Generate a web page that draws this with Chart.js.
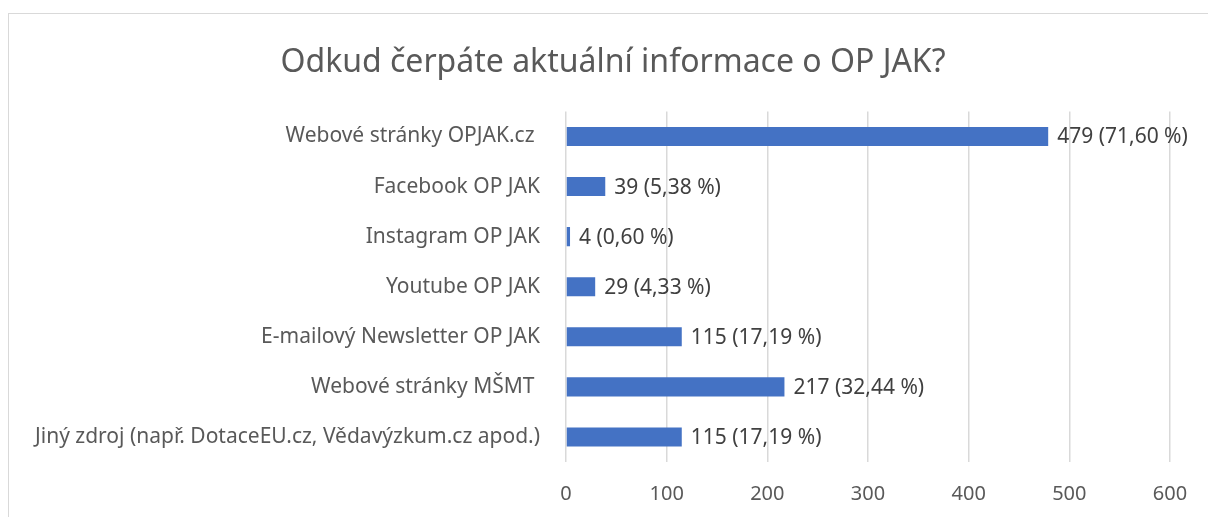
<!DOCTYPE html>
<html>
<head>
<meta charset="utf-8">
<script src="https://cdn.jsdelivr.net/npm/chart.js@4"></script>
<style>
  html, body { margin: 0; padding: 0; background: #fff; overflow: hidden; }
  #frame { position: absolute; left: 8px; top: 13px; width: 1400px; height: 700px; border: 1px solid #d9d9d9; }
  #wrap { position: absolute; left: 0; top: 0; width: 1208px; height: 517px; }
</style>
</head>
<body>
<div id="frame"></div>
<div id="wrap"><canvas id="chart"></canvas></div>
<script>
const categories = [
  "Webové stránky OPJAK.cz ",
  "Facebook OP JAK",
  "Instagram OP JAK",
  "Youtube OP JAK",
  "E-mailový Newsletter OP JAK",
  "Webové stránky MŠMT ",
  "Jiný zdroj (např. DotaceEU.cz, Vědavýzkum.cz apod.)"
];
const counts = [479, 39, 4, 29, 115, 217, 115];
const shares = ["71,60", "5,38", "0,60", "4,33", "17,19", "32,44", "17,19"];
const xTicks = [0, 100, 200, 300, 400, 500, 600];

const FONT = "'Noto Sans', sans-serif";

const valueLabels = {
  id: "valueLabels",
  afterDatasetsDraw(chart) {
    const ctx = chart.ctx;
    const meta = chart.getDatasetMeta(0);
    ctx.save();
    ctx.font = "21px " + FONT;
    ctx.fillStyle = "#404040";
    ctx.textAlign = "left";
    ctx.textBaseline = "middle";
    meta.data.forEach((bar, i) => {
      ctx.fillText(`${counts[i]} (${shares[i]} %)`, bar.x + 9, bar.y + 1);
    });
    ctx.restore();
  }
};

new Chart(document.getElementById("chart"), {
  type: "bar",
  data: {
    labels: categories,
    datasets: [{
      data: counts,
      backgroundColor: "#4472C4",
      barPercentage: 0.76,
      categoryPercentage: 0.5
    }]
  },
  options: {
    indexAxis: "y",
    responsive: true,
    maintainAspectRatio: false,
    animation: false,
    layout: { padding: { right: 38, left: 56 } },
    plugins: {
      legend: { display: false },
      tooltip: { enabled: false },
      title: {
        display: true,
        text: "Odkud čerpáte aktuální informace o OP JAK?",
        color: "#595959",
        font: { family: FONT, size: 32, weight: "normal" },
        padding: { top: 44, bottom: 29 }
      }
    },
    scales: {
      x: {
        min: 0,
        max: 600,
        afterBuildTicks: (scale) => { scale.ticks = xTicks.map(v => ({ value: v })); },
        afterFit: (scale) => { scale.height = 55; },
        grid: { color: "#d9d9d9", lineWidth: 1.5, drawTicks: false },
        border: { display: false },
        ticks: { color: "#595959", font: { family: FONT, size: 20 }, padding: 20 }
      },
      y: {
        afterFit: (scale) => {
          scale.width = 510;
          // long category label reaches past the axis box into the left padding
          scale._computeLabelArea = () => undefined;
        },
        grid: { display: false },
        border: { display: false },
        ticks: { color: "#595959", font: { family: FONT, size: 21 }, padding: 18 }
      }
    }
  },
  plugins: [valueLabels]
});
</script>
</body>
</html>
